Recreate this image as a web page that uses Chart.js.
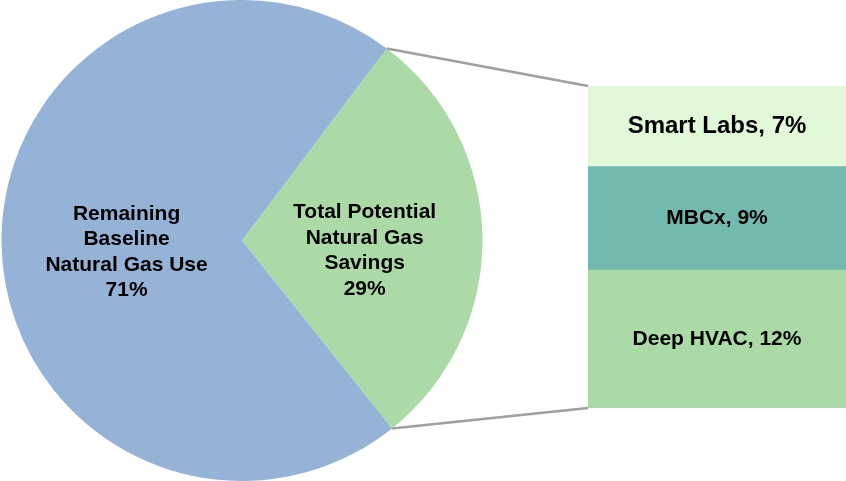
<!DOCTYPE html>
<html>
<head>
<meta charset="utf-8">
<script src="https://cdn.jsdelivr.net/npm/chart.js@4"></script>
<style>
  body { margin: 0; background: #fff; }
  #wrap { position: relative; width: 846px; height: 481px; }
  canvas { position: absolute; left: 0; top: 0; }
</style>
</head>
<body>
<div id="wrap">
  <canvas id="pieChart" width="846" height="481"></canvas>
  <canvas id="barChart" width="846" height="481"></canvas>
</div>
<script>
const pieLabels = ['Total Potential Natural Gas Savings', 'Remaining Baseline Natural Gas Use'];
const pieLines = [['Total Potential', 'Natural Gas', 'Savings'], ['Remaining', 'Baseline', 'Natural Gas Use']];
const pieValues = [29, 71];
const pieColors = ['#acdaa6', '#95b3d7'];

// stacked from the bottom up
const savingsLabels = ['Deep HVAC', 'MBCx', 'Smart Labs'];
const savingsValues = [12, 9, 7];
const savingsColors = ['#acdaa6', '#72b9b0', '#e2f9d9'];
const savingsFonts = [21, 21, 24];

const font = '"Liberation Sans", Arial, sans-serif';

// labels inside the pie slices
const pieText = {
    id: 'pieText',
    afterDatasetsDraw(chart) {
        const c = chart.ctx;
        const arcs = chart.getDatasetMeta(0).data;
        c.save();
        c.fillStyle = '#000';
        c.font = 'bold 21px ' + font;
        c.textAlign = 'center';
        c.textBaseline = 'middle';
        arcs.forEach((arc, i) => {
            const mid = (arc.startAngle + arc.endAngle) / 2;
            const k = i === 0 ? 0.51 : 0.48;
            const x = arc.x + Math.cos(mid) * arc.outerRadius * k;
            const y = arc.y + Math.sin(mid) * arc.outerRadius * k + (i === 0 ? 12 : 10);
            const lines = pieLines[i].concat([pieValues[i] + '%']);
            const lh = 25.5;
            lines.forEach((t, j) => {
                c.fillText(t, x, y + (j - (lines.length - 1) / 2) * lh);
            });
        });
        c.restore();
    }
};

const pie = new Chart(document.getElementById('pieChart'), {
    type: 'pie',
    data: {
        labels: pieLabels,
        datasets: [{
            data: pieValues,
            backgroundColor: pieColors,
            borderWidth: 0
        }]
    },
    options: {
        responsive: false,
        animation: false,
        rotation: 37,
        layout: { padding: { left: 0, right: 362, top: 0, bottom: 0 } },
        plugins: { legend: { display: false }, tooltip: { enabled: false } }
    },
    plugins: [pieText]
});

// connector lines + text on the bar
const barText = {
    id: 'barText',
    afterDraw(chart) {
        const c = chart.ctx;
        const arc = pie.getDatasetMeta(0).data[0];
        const topBar = chart.getDatasetMeta(savingsValues.length - 1).data[0];
        const bottomBar = chart.getDatasetMeta(0).data[0];
        const left = topBar.x - topBar.width / 2;
        c.save();
        c.strokeStyle = '#a0a0a0';
        c.lineWidth = 2.5;
        c.beginPath();
        c.moveTo(arc.x + Math.cos(arc.startAngle) * arc.outerRadius, arc.y + Math.sin(arc.startAngle) * arc.outerRadius);
        c.lineTo(left, topBar.y);
        c.moveTo(arc.x + Math.cos(arc.endAngle) * arc.outerRadius, arc.y + Math.sin(arc.endAngle) * arc.outerRadius);
        c.lineTo(left, bottomBar.base);
        c.stroke();

        c.fillStyle = '#000';
        c.textAlign = 'center';
        c.textBaseline = 'middle';
        savingsLabels.forEach((lab, i) => {
            const el = chart.getDatasetMeta(i).data[0];
            c.font = 'bold ' + savingsFonts[i] + 'px ' + font;
            c.fillText(lab + ', ' + savingsValues[i] + '%', el.x, (el.y + el.base) / 2);
        });
        c.restore();
    }
};

new Chart(document.getElementById('barChart'), {
    type: 'bar',
    data: {
        labels: ['Savings'],
        datasets: savingsLabels.map((lab, i) => ({
            label: lab,
            data: [savingsValues[i]],
            backgroundColor: savingsColors[i],
            borderWidth: 0,
            barPercentage: 1,
            categoryPercentage: 1
        }))
    },
    options: {
        responsive: false,
        animation: false,
        layout: { padding: { left: 588, right: 0, top: 86, bottom: 73 } },
        scales: {
            x: { stacked: true, display: false },
            y: { stacked: true, display: false, min: 0, max: 28 }
        },
        plugins: { legend: { display: false }, tooltip: { enabled: false } }
    },
    plugins: [barText]
});
</script>
</body>
</html>
